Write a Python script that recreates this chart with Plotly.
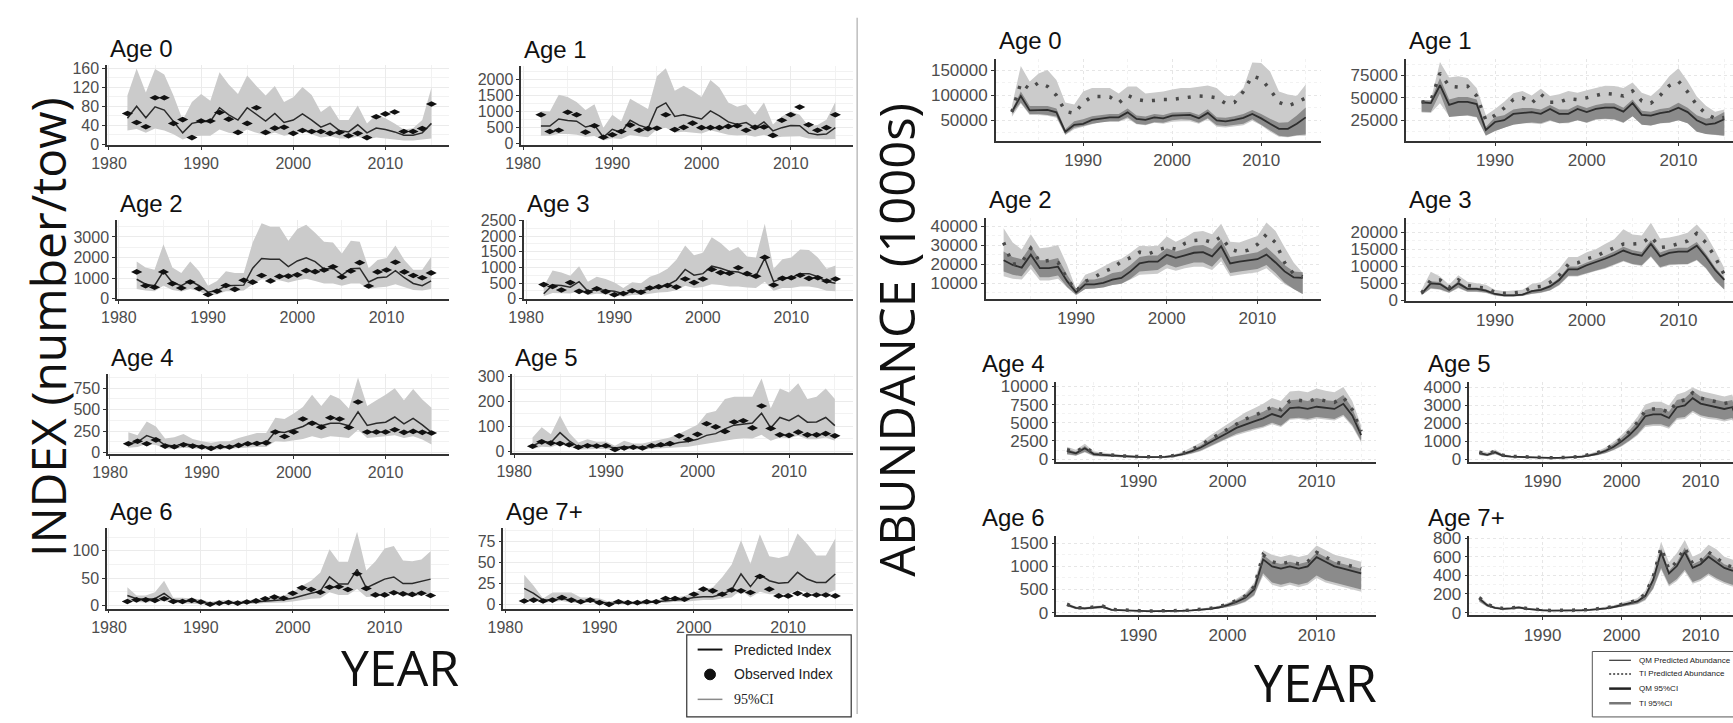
import plotly.graph_objects as go

W, H = 1733, 723
YEARS = list(range(1982, 2016))

# ---------------- Survey index (number/tow) ----------------
IDX0_OBS = [65, 46, 37, 98, 98, 44, 52, 14, 49, 49, 67, 53, 25, 44, 77, 25, 34, 36, 23, 29, 27, 27, 23, 25, 18, 23, 14, 58, 64, 68, 27, 27, 33, 85]
IDX0_PRED = [55, 80, 56, 79, 72, 48, 24, 44, 48, 48, 77, 62, 51, 77, 62, 49, 65, 46, 51, 64, 51, 36, 44, 29, 26, 41, 24, 34, 31, 26, 19, 19, 24, 44]
IDX0_HI = [103, 160, 109, 159, 147, 103, 51, 89, 106, 92, 152, 126, 106, 145, 123, 103, 123, 89, 99, 121, 104, 68, 82, 51, 51, 82, 44, 62, 55, 44, 31, 34, 51, 120]
IDX0_LO = [29, 32, 24, 33, 29, 21, 10, 17, 18, 18, 31, 24, 21, 31, 24, 19, 25, 18, 21, 27, 21, 14, 17, 12, 12, 16, 10, 14, 12, 10, 8, 8, 10, 12]

IDX1_OBS = [900, 380, 420, 980, 900, 360, 560, 200, 280, 380, 580, 420, 470, 480, 900, 440, 510, 640, 500, 500, 500, 540, 560, 420, 510, 520, 260, 730, 900, 1140, 590, 420, 500, 900]
IDX1_PRED = [550, 550, 770, 720, 700, 520, 580, 200, 450, 350, 730, 580, 480, 1120, 1270, 850, 900, 830, 770, 1020, 870, 680, 600, 660, 490, 680, 400, 500, 570, 560, 330, 280, 300, 500]
IDX1_HI = [1020, 1000, 1520, 1450, 1300, 1050, 1230, 500, 900, 700, 1400, 1250, 1080, 2100, 2350, 1650, 1800, 1650, 1450, 1980, 1750, 1280, 1150, 1230, 900, 1280, 600, 850, 1000, 900, 550, 580, 750, 1300]
IDX1_LO = [250, 250, 300, 300, 280, 220, 240, 100, 170, 150, 270, 230, 200, 450, 500, 350, 370, 350, 320, 420, 350, 280, 260, 270, 220, 280, 180, 220, 230, 230, 160, 140, 140, 150]

IDX2_OBS = [1300, 625, 550, 1300, 730, 515, 810, 485, 200, 360, 640, 450, 890, 800, 1125, 860, 1080, 1095, 1155, 1360, 1310, 1390, 1550, 1050, 1345, 1750, 610, 1300, 1390, 1770, 1300, 1125, 1015, 1250]
IDX2_PRED = [940, 700, 625, 1330, 780, 625, 860, 625, 310, 390, 625, 625, 655, 1480, 1950, 1920, 1920, 1560, 1830, 1980, 1800, 1440, 1480, 1140, 1450, 1480, 810, 1015, 1050, 1360, 1015, 735, 625, 860]
IDX2_HI = [1800, 1515, 1400, 2650, 1515, 1250, 1800, 1330, 625, 860, 1330, 1250, 1250, 2730, 3670, 3500, 3500, 2810, 3390, 3600, 3200, 2770, 2730, 2190, 2810, 2770, 1480, 1875, 1980, 2580, 1875, 1400, 1400, 2030]
IDX2_LO = [470, 390, 360, 625, 420, 345, 470, 360, 155, 200, 360, 360, 390, 700, 940, 905, 890, 780, 890, 970, 860, 735, 735, 625, 735, 735, 470, 545, 580, 700, 545, 420, 390, 470]

IDX3_OBS = [450, 390, 280, 515, 235, 215, 320, 225, 125, 165, 255, 205, 340, 380, 420, 370, 630, 515, 630, 935, 835, 815, 990, 800, 720, 1320, 440, 650, 670, 750, 650, 670, 565, 630]
IDX3_PRED = [155, 440, 420, 370, 545, 235, 290, 255, 235, 155, 235, 235, 320, 370, 440, 595, 935, 750, 800, 1040, 975, 875, 855, 750, 730, 1285, 545, 650, 670, 800, 800, 700, 545, 495]
IDX3_HI = [390, 905, 835, 730, 1040, 545, 700, 630, 515, 340, 525, 495, 700, 800, 955, 1245, 1700, 1390, 1470, 1965, 1780, 1525, 1655, 1350, 1320, 2400, 955, 1265, 1320, 1575, 1555, 1320, 955, 1060]
IDX3_LO = [80, 185, 185, 165, 235, 115, 155, 135, 115, 60, 115, 115, 165, 195, 215, 270, 410, 340, 370, 465, 440, 390, 390, 360, 340, 545, 255, 340, 340, 390, 390, 340, 255, 235]

IDX4_OBS = [103, 133, 103, 148, 76, 69, 91, 76, 65, 50, 69, 65, 84, 103, 107, 114, 240, 187, 240, 392, 343, 297, 407, 392, 293, 590, 240, 240, 240, 266, 236, 247, 236, 228]
IDX4_PRED = [103, 122, 198, 160, 88, 76, 103, 88, 76, 57, 69, 69, 88, 103, 110, 114, 247, 236, 266, 305, 362, 312, 343, 343, 312, 476, 316, 343, 354, 415, 335, 400, 324, 236]
IDX4_HI = [236, 202, 362, 305, 164, 179, 217, 160, 133, 114, 133, 133, 171, 202, 228, 228, 407, 392, 457, 533, 674, 544, 674, 628, 514, 876, 544, 609, 674, 750, 609, 742, 620, 522]
IDX4_LO = [57, 65, 103, 88, 50, 42, 57, 50, 42, 30, 38, 38, 50, 57, 65, 65, 133, 126, 141, 160, 190, 164, 190, 183, 171, 266, 171, 179, 190, 202, 171, 190, 152, 95]

IDX5_OBS = [20, 38, 33, 31, 26, 16, 22, 21, 22, 7, 13, 16, 13, 22, 26, 31, 62, 47, 68, 111, 98, 80, 118, 123, 94, 182, 92, 66, 64, 77, 66, 66, 71, 62]
IDX5_PRED = [22, 39, 35, 75, 42, 18, 24, 21, 21, 13, 18, 16, 16, 18, 22, 26, 35, 39, 48, 64, 71, 90, 105, 111, 114, 153, 94, 136, 123, 144, 117, 118, 136, 103]
IDX5_HI = [55, 97, 68, 144, 75, 35, 48, 38, 39, 22, 42, 31, 31, 38, 45, 55, 71, 88, 107, 153, 162, 210, 219, 219, 219, 293, 173, 252, 236, 274, 210, 219, 252, 210]
IDX5_LO = [9, 18, 16, 29, 18, 7, 9, 9, 9, 5, 8, 7, 7, 8, 10, 13, 16, 18, 22, 29, 33, 42, 48, 52, 51, 66, 42, 55, 52, 62, 48, 48, 55, 42]

IDX6_OBS = [7, 10, 10, 9, 12, 7, 7, 9, 6, 2, 4, 5, 4, 6, 8, 12, 15, 13, 22, 32, 29, 24, 33, 34, 29, 58, 31, 19, 19, 23, 21, 20, 22, 18]
IDX6_PRED = [18, 12, 11, 12, 22, 9, 8, 8, 6, 3, 4, 5, 4, 5, 6, 7, 9, 10, 13, 18, 22, 26, 52, 39, 39, 66, 32, 40, 48, 52, 40, 40, 44, 48]
IDX6_HI = [33, 18, 18, 24, 45, 14, 14, 12, 11, 6, 9, 9, 8, 9, 10, 12, 15, 18, 24, 36, 45, 60, 103, 80, 80, 135, 64, 81, 104, 109, 82, 81, 84, 99]
IDX6_LO = [6, 6, 5, 6, 8, 4, 3, 3, 2, 1, 2, 2, 2, 2, 3, 4, 5, 5, 7, 9, 12, 13, 24, 19, 19, 30, 15, 16, 21, 22, 18, 16, 18, 21]

IDX7_OBS = [4, 5, 4, 5, 8, 5, 3, 5, 2, 0, 3, 2, 2, 3, 3, 7, 7, 6, 12, 18, 16, 12, 17, 16, 14, 33, 18, 10, 10, 13, 11, 11, 11, 10]
IDX7_PRED = [19, 13, 5, 5, 7, 5, 3, 4, 3, 1, 2, 2, 2, 2, 3, 4, 5, 6, 8, 9, 9, 12, 17, 36, 21, 35, 28, 25, 26, 38, 30, 26, 26, 36]
IDX7_HI = [35, 22, 7, 14, 14, 14, 8, 8, 7, 3, 5, 4, 4, 5, 5, 7, 8, 10, 14, 18, 20, 32, 47, 76, 48, 83, 57, 55, 58, 84, 72, 58, 58, 78]
IDX7_LO = [7, 5, 2, 3, 4, 2, 2, 2, 2, 0, 1, 1, 1, 1, 2, 2, 3, 3, 4, 5, 5, 7, 8, 17, 8, 15, 12, 12, 12, 17, 14, 12, 12, 17]

# ---------------- Abundance (1000s): QM and TI models ----------------
AB0_QM = [67000, 99000, 70000, 71000, 71000, 66000, 27000, 41000, 43000, 51000, 54000, 56000, 56000, 66000, 53000, 51000, 56000, 54000, 59500, 61000, 61000, 54000, 65000, 50000, 48000, 51000, 55000, 63000, 54000, 43000, 33000, 33000, 43000, 56000]
AB0_TI = [67000, 125000, 113000, 126000, 118000, 100000, 68000, 64000, 85000, 98000, 98000, 97000, 85000, 100000, 92000, 89000, 90000, 92000, 92000, 94000, 97000, 99000, 98000, 95000, 84000, 86000, 108000, 139000, 133000, 112000, 86000, 79000, 86000, 95000]
AB0_TI_HI = [79000, 159000, 128000, 144000, 151000, 131000, 86000, 82000, 108000, 115000, 115000, 115000, 104000, 118000, 118000, 104000, 106000, 108000, 112000, 115000, 115000, 118000, 120000, 115000, 99000, 99000, 115000, 166000, 165000, 148000, 108000, 102000, 99000, 122000]
AB0_TI_LO = [57000, 84000, 61000, 61000, 59000, 55000, 20500, 32000, 37000, 42000, 47000, 47000, 47000, 53000, 42000, 40000, 45000, 43000, 47000, 48000, 48000, 43000, 52000, 37000, 35500, 37000, 40000, 49000, 40000, 27000, 17000, 16000, 19000, 19000]
AB0_QM_HI = [71000, 108000, 79000, 79000, 79000, 74000, 32000, 48000, 52000, 58000, 61000, 63000, 63000, 74000, 59500, 57500, 63000, 61000, 66000, 67000, 67000, 61000, 72500, 56000, 55000, 58000, 63000, 71000, 63000, 53000, 45000, 46000, 59500, 76000]
AB0_QM_LO = [63000, 86000, 63000, 63000, 61000, 57500, 21500, 35000, 38500, 43000, 46000, 48000, 48000, 56000, 43000, 41000, 46000, 45000, 50000, 52000, 51000, 45000, 54000, 40000, 38500, 40000, 43000, 52000, 42000, 30000, 19000, 17000, 20000, 21500]

AB1_QM = [45000, 44000, 64000, 42000, 45500, 45500, 43000, 14000, 23000, 25000, 32000, 33000, 34000, 32000, 37500, 32000, 32000, 37500, 34000, 37500, 39000, 39000, 34500, 44000, 31000, 30000, 33000, 34500, 39000, 34000, 25000, 20000, 21500, 26000]
AB1_TI = [45000, 46500, 77500, 63000, 62000, 63000, 52000, 25000, 30500, 38500, 48000, 50000, 44000, 54000, 45000, 45000, 49000, 48000, 50000, 52500, 55000, 54000, 52000, 57500, 46500, 44000, 52500, 63500, 68500, 56500, 42000, 32000, 27000, 28000]
AB1_TI_HI = [47500, 47500, 90000, 72500, 74000, 72000, 61000, 30500, 37500, 45500, 55000, 57500, 52500, 60000, 52000, 54000, 57500, 55500, 58500, 61000, 63500, 63000, 61000, 67000, 55500, 52000, 61000, 74000, 83000, 68500, 51500, 41000, 34500, 37000]
AB1_TI_LO = [33500, 33000, 44000, 29500, 30000, 30000, 28000, 7500, 13000, 16500, 20500, 21500, 21500, 20500, 24000, 21500, 21500, 25000, 22000, 25500, 26000, 25500, 22000, 29500, 20500, 19000, 21500, 22000, 25000, 21500, 13000, 9500, 8500, 7000]
AB1_QM_HI = [47000, 47000, 72000, 48000, 51000, 51000, 48000, 17500, 28500, 30500, 37000, 38500, 38500, 37000, 42000, 37000, 37000, 42000, 38500, 42000, 44000, 44000, 39000, 48000, 35500, 34500, 37500, 39000, 44500, 39000, 30500, 26500, 28500, 34000]
AB1_QM_LO = [34500, 34000, 55000, 28500, 29500, 30500, 28500, 8000, 13000, 16500, 20000, 21500, 22500, 21500, 25000, 21500, 22500, 25000, 22500, 26000, 26500, 26000, 22500, 29500, 20000, 19000, 21500, 22500, 25000, 21500, 12000, 9500, 8500, 8000]

AB2_QM = [22200, 19700, 18300, 25100, 18000, 18000, 18800, 11200, 5300, 9500, 9500, 10300, 12000, 12900, 16300, 20500, 21400, 21400, 25100, 23400, 24700, 26100, 26400, 24200, 29500, 20500, 21400, 22200, 22700, 25100, 21000, 16300, 13200, 12900]
AB2_TI = [31500, 20000, 21000, 28500, 21400, 22000, 21000, 12500, 6000, 11000, 13200, 16000, 18000, 21500, 23500, 26400, 25500, 27500, 29000, 28000, 31000, 32500, 33000, 31500, 34500, 28000, 26500, 27500, 30500, 35800, 31500, 21000, 15000, 13500]
AB2_TI_HI = [39000, 31500, 27800, 35800, 28500, 29000, 30200, 19700, 7000, 14600, 16300, 18800, 21400, 23000, 26100, 29800, 29500, 29800, 34600, 31900, 34100, 37000, 37500, 35800, 41400, 31900, 31500, 33200, 34900, 42000, 37500, 29000, 21000, 15400]
AB2_TI_LO = [13700, 12500, 12000, 17600, 11500, 11500, 12500, 7800, 3600, 7000, 7300, 8100, 9200, 9800, 12000, 14600, 14900, 15100, 18000, 16600, 18000, 18800, 18800, 17100, 21700, 13700, 14600, 15400, 15900, 18000, 13700, 9500, 7000, 4400]
AB2_QM_HI = [26800, 23900, 22700, 29800, 22200, 22200, 23400, 14600, 7000, 12000, 12000, 13200, 15400, 16300, 19700, 23900, 24700, 24700, 28500, 26800, 28100, 29800, 30200, 28100, 33200, 23900, 24700, 25600, 26400, 29000, 24700, 19700, 16300, 15900]
AB2_QM_LO = [16300, 14600, 13700, 20000, 13200, 13200, 14200, 8100, 4000, 7000, 7300, 7800, 9200, 9800, 12500, 16300, 16600, 17100, 20000, 18300, 19700, 21000, 21000, 18800, 23900, 15400, 16300, 17100, 17600, 19700, 15400, 10300, 7000, 4400]

AB3_QM = [2000, 5000, 4800, 3100, 5000, 3400, 3400, 2900, 1900, 1500, 1500, 1700, 2700, 3100, 4100, 6000, 9100, 9100, 10300, 11200, 12200, 13300, 14600, 13600, 13100, 16500, 12900, 13900, 14300, 14300, 16000, 12700, 8900, 6000]
AB3_TI = [2200, 6000, 6000, 3800, 6000, 4400, 3900, 3600, 2400, 2100, 2200, 2500, 3800, 4100, 5300, 7400, 10600, 11000, 12200, 12900, 14300, 15500, 16500, 16500, 16700, 18700, 15500, 15800, 16500, 17400, 19600, 16900, 12700, 7500]
AB3_TI_HI = [3100, 8400, 7000, 4600, 7400, 5500, 5000, 4600, 3100, 2700, 2900, 3100, 4800, 5300, 7000, 9300, 12700, 12700, 14100, 15000, 16500, 17900, 20800, 19300, 19000, 22700, 18100, 18400, 19000, 19800, 22200, 19300, 14600, 9500]
AB3_TI_LO = [1500, 3400, 3100, 2200, 3600, 2500, 2500, 2200, 1400, 1100, 1100, 1300, 1900, 2200, 2900, 4400, 7000, 7000, 7900, 8600, 9300, 10300, 11400, 10500, 10100, 12700, 9500, 10300, 10500, 10500, 11700, 9300, 5700, 3100]
AB3_QM_HI = [2300, 5600, 5400, 3500, 5600, 3800, 3800, 3300, 2200, 1800, 1800, 2000, 3000, 3500, 4600, 6600, 9900, 9900, 11100, 12000, 13100, 14300, 15700, 14700, 14200, 17600, 14000, 15000, 15400, 15400, 17100, 13700, 9700, 6600]
AB3_QM_LO = [1600, 3600, 3300, 2300, 3800, 2600, 2600, 2300, 1500, 1200, 1200, 1400, 2000, 2300, 3000, 4600, 7200, 7200, 8100, 8800, 9500, 10500, 11600, 10700, 10300, 12900, 9700, 10500, 10700, 10700, 11900, 9500, 5900, 3200]

AB4_QM = [1100, 800, 1500, 700, 600, 500, 400, 350, 300, 280, 280, 300, 450, 700, 1100, 1600, 2300, 2900, 3600, 4300, 4800, 5200, 5600, 6200, 5800, 7000, 7100, 6900, 7200, 7000, 6900, 7600, 6000, 3300]
AB4_TI = [1300, 1000, 1700, 800, 700, 550, 450, 400, 350, 300, 300, 350, 500, 800, 1300, 1900, 2700, 3400, 4200, 4900, 5500, 6000, 6500, 7200, 6800, 8000, 8100, 7900, 8300, 8000, 7800, 8500, 6800, 3800]
AB4_TI_HI = [1700, 1300, 2100, 1100, 900, 700, 600, 500, 450, 400, 400, 450, 650, 1000, 1600, 2300, 3200, 4000, 4900, 5700, 6400, 7000, 7600, 8400, 8000, 9300, 9400, 9200, 9700, 9400, 9200, 9900, 8000, 4600]
AB4_TI_LO = [600, 450, 900, 400, 350, 280, 230, 200, 180, 160, 160, 180, 270, 450, 750, 1100, 1700, 2200, 2800, 3300, 3700, 4000, 4300, 4800, 4400, 5400, 5500, 5300, 5600, 5400, 5300, 5900, 4500, 2300]
AB4_QM_HI = [1400, 1000, 1800, 900, 750, 600, 500, 450, 400, 350, 350, 400, 550, 850, 1300, 1900, 2700, 3400, 4200, 5000, 5600, 6100, 6500, 7200, 6800, 8100, 8200, 8000, 8400, 8100, 8000, 8800, 7000, 4000]
AB4_QM_LO = [700, 500, 1000, 450, 400, 300, 250, 220, 200, 180, 180, 200, 300, 500, 800, 1200, 1800, 2300, 2900, 3500, 3900, 4200, 4500, 5000, 4600, 5600, 5700, 5500, 5800, 5600, 5500, 6100, 4700, 2500]

AB5_QM = [350, 250, 400, 200, 150, 130, 110, 100, 90, 80, 80, 90, 110, 150, 220, 320, 480, 700, 1000, 1350, 1800, 2400, 2500, 2500, 2300, 2900, 3000, 3400, 3100, 3000, 2900, 2800, 2900, 1800]
AB5_TI = [400, 300, 450, 230, 170, 150, 120, 110, 100, 90, 90, 100, 130, 180, 260, 380, 560, 820, 1150, 1550, 2050, 2700, 2800, 2800, 2600, 3200, 3300, 3700, 3400, 3300, 3200, 3100, 3200, 2000]
AB5_TI_HI = [500, 380, 550, 300, 220, 190, 160, 140, 130, 120, 120, 130, 170, 230, 330, 470, 680, 980, 1350, 1800, 2350, 3050, 3200, 3200, 3000, 3600, 3750, 4000, 3800, 3700, 3600, 3500, 3600, 2300]
AB5_TI_LO = [230, 170, 280, 130, 95, 85, 70, 65, 55, 50, 50, 55, 75, 100, 150, 230, 340, 500, 720, 1000, 1330, 1800, 1850, 1850, 1700, 2200, 2250, 2600, 2350, 2250, 2200, 2100, 2200, 1300]
AB5_QM_HI = [420, 300, 480, 250, 180, 160, 130, 120, 110, 100, 100, 110, 140, 190, 280, 400, 580, 850, 1200, 1600, 2100, 2750, 2850, 2850, 2650, 3300, 3400, 3800, 3500, 3400, 3300, 3200, 3300, 2100]
AB5_QM_LO = [250, 180, 300, 140, 100, 90, 75, 70, 60, 55, 55, 60, 80, 110, 160, 240, 360, 530, 760, 1050, 1400, 1900, 1950, 1950, 1800, 2300, 2350, 2700, 2450, 2350, 2300, 2200, 2300, 1400]

AB6_QM = [170, 100, 90, 110, 130, 60, 50, 40, 35, 30, 30, 30, 35, 40, 50, 60, 80, 110, 160, 230, 320, 500, 1150, 1000, 950, 1000, 950, 1000, 1200, 1100, 1000, 950, 900, 850]
AB6_TI = [180, 110, 100, 120, 140, 70, 55, 45, 40, 35, 35, 35, 40, 45, 55, 70, 90, 125, 180, 260, 360, 560, 1250, 1100, 1050, 1100, 1050, 1100, 1300, 1200, 1100, 1050, 1000, 950]
AB6_TI_HI = [210, 130, 120, 140, 160, 85, 65, 55, 50, 45, 45, 45, 50, 55, 65, 85, 110, 150, 210, 300, 420, 650, 1350, 1250, 1200, 1250, 1200, 1250, 1450, 1350, 1250, 1200, 1150, 1100]
AB6_TI_LO = [130, 75, 65, 85, 95, 42, 35, 28, 24, 20, 20, 20, 24, 28, 35, 42, 55, 80, 115, 160, 225, 360, 800, 600, 550, 600, 550, 600, 750, 650, 600, 550, 500, 450]
AB6_QM_HI = [190, 115, 105, 125, 150, 70, 58, 48, 42, 36, 36, 36, 42, 48, 58, 70, 95, 130, 190, 270, 380, 600, 1250, 1100, 1050, 1100, 1050, 1100, 1300, 1200, 1100, 1050, 1000, 950]
AB6_QM_LO = [140, 80, 70, 90, 100, 45, 38, 30, 26, 22, 22, 22, 26, 30, 38, 45, 60, 85, 120, 170, 240, 380, 850, 650, 600, 650, 600, 650, 800, 700, 650, 600, 550, 500]

AB7_QM = [150, 80, 50, 40, 45, 55, 40, 30, 25, 20, 20, 20, 22, 25, 30, 35, 45, 60, 80, 100, 120, 180, 350, 650, 420, 500, 650, 480, 520, 600, 540, 480, 450, 450]
AB7_TI = [160, 90, 55, 45, 50, 60, 45, 33, 28, 22, 22, 22, 25, 28, 33, 40, 50, 65, 90, 110, 130, 200, 380, 700, 460, 550, 700, 520, 560, 650, 590, 520, 490, 490]
AB7_TI_HI = [180, 100, 65, 55, 60, 70, 55, 40, 34, 27, 27, 27, 30, 34, 40, 48, 60, 78, 105, 130, 155, 235, 440, 760, 540, 640, 780, 600, 640, 730, 680, 600, 570, 560]
AB7_TI_LO = [115, 60, 38, 30, 34, 42, 30, 22, 19, 15, 15, 15, 17, 19, 22, 26, 34, 45, 58, 74, 90, 130, 250, 460, 280, 340, 440, 310, 340, 400, 350, 310, 280, 280]
AB7_QM_HI = [165, 88, 55, 45, 50, 60, 45, 33, 28, 22, 22, 22, 25, 28, 33, 40, 50, 65, 88, 110, 130, 195, 380, 690, 450, 540, 700, 520, 560, 650, 590, 520, 490, 490]
AB7_QM_LO = [120, 65, 40, 32, 36, 45, 32, 24, 20, 16, 16, 16, 18, 20, 24, 28, 36, 48, 62, 78, 95, 140, 260, 480, 300, 360, 460, 330, 360, 420, 370, 330, 300, 300]

AGE_LABELS = ["Age 0", "Age 1", "Age 2", "Age 3", "Age 4", "Age 5", "Age 6", "Age 7+"]
INDEX_TICKS = [[0, 40, 80, 120, 160], [0, 500, 1000, 1500, 2000], [0, 1000, 2000, 3000],
               [0, 500, 1000, 1500, 2000, 2500], [0, 250, 500, 750], [0, 100, 200, 300],
               [0, 50, 100], [0, 25, 50, 75]]
ABUND_TICKS = [[50000, 100000, 150000], [25000, 50000, 75000], [10000, 20000, 30000, 40000],
               [0, 5000, 10000, 15000, 20000], [0, 2500, 5000, 7500, 10000], [0, 1000, 2000, 3000, 4000],
               [0, 500, 1000, 1500], [0, 200, 400, 600, 800]]

INDEX_SERIES = [(IDX0_OBS, IDX0_PRED, IDX0_HI, IDX0_LO), (IDX1_OBS, IDX1_PRED, IDX1_HI, IDX1_LO),
                (IDX2_OBS, IDX2_PRED, IDX2_HI, IDX2_LO), (IDX3_OBS, IDX3_PRED, IDX3_HI, IDX3_LO),
                (IDX4_OBS, IDX4_PRED, IDX4_HI, IDX4_LO), (IDX5_OBS, IDX5_PRED, IDX5_HI, IDX5_LO),
                (IDX6_OBS, IDX6_PRED, IDX6_HI, IDX6_LO), (IDX7_OBS, IDX7_PRED, IDX7_HI, IDX7_LO)]
ABUND_SERIES = [(AB0_QM, AB0_TI, AB0_TI_HI, AB0_TI_LO, AB0_QM_HI, AB0_QM_LO),
                (AB1_QM, AB1_TI, AB1_TI_HI, AB1_TI_LO, AB1_QM_HI, AB1_QM_LO),
                (AB2_QM, AB2_TI, AB2_TI_HI, AB2_TI_LO, AB2_QM_HI, AB2_QM_LO),
                (AB3_QM, AB3_TI, AB3_TI_HI, AB3_TI_LO, AB3_QM_HI, AB3_QM_LO),
                (AB4_QM, AB4_TI, AB4_TI_HI, AB4_TI_LO, AB4_QM_HI, AB4_QM_LO),
                (AB5_QM, AB5_TI, AB5_TI_HI, AB5_TI_LO, AB5_QM_HI, AB5_QM_LO),
                (AB6_QM, AB6_TI, AB6_TI_HI, AB6_TI_LO, AB6_QM_HI, AB6_QM_LO),
                (AB7_QM, AB7_TI, AB7_TI_HI, AB7_TI_LO, AB7_QM_HI, AB7_QM_LO)]

# Panel boxes in pixels: (left, right, top, bottom), title left edge, x range, y range
INDEX_BOXES = [
    ((92, 437, 58, 140), 93, [1979.8, 2016.9], [-1, 168]),
    ((510, 845, 59, 140), 511, [1979.8, 2017.0], [-30, 2430]),
    ((102, 437, 217, 298), 103, [1979.8, 2017.0], [-20, 3830]),
    ((513, 845, 217, 298), 514, [1979.8, 2017.0], [-10, 2520]),
    ((93, 437, 375, 457), 94, [1979.8, 2016.9], [-19, 914]),
    ((501, 845, 375, 456), 502, [1979.8, 2017.0], [-8, 310]),
    ((92, 437, 533, 615), 93, [1979.8, 2017.0], [-6, 141]),
    ((492, 845, 533, 615), 493, [1979.8, 2016.9], [-5, 90]),
]
ABUND_BOXES = [
    ((989, 1317, 52, 136), 990, [1980.2, 2016.7], [9000, 173500]),
    ((1403, 1733, 52, 136), 1404, [1980.3, 2015.95], [2000, 93500]),
    ((979, 1317, 215, 298), 980, [1980.05, 2017.0], [1800, 44400]),
    ((1403, 1733, 215, 300), 1404, [1980.3, 2015.95], [-140, 24140]),
    ((1050, 1373, 383, 465), 973, [1980.8, 2016.7], [-400, 10600]),
    ((1467, 1733, 383, 465), 1423, [1980.75, 2014.1], [-150, 4300]),
    ((1050, 1373, 541, 622), 973, [1980.8, 2016.7], [-60, 1650]),
    ((1467, 1733, 541, 622), 1423, [1980.75, 2014.1], [-30, 820]),
]

SANS = "Liberation Sans, Arial, sans-serif"
BIG = "Open Sans, Noto Sans, sans-serif"
LIGHT_CI = "#cbcbcb"
DARK_CI = "#8b8b8b"

fig = go.Figure()
layout = {}
annotations = []
shapes = []


def px_x(p):
    return p / W


def px_y(p):
    return 1 - p / H


def setup_axes(i, box, title_x, xr, yr, yticks, xticks, minor_x, right_side):
    left, right, top, bottom = box
    sx = "" if i == 1 else str(i)
    tick_font = dict(size=17 if right_side else 16, color="#4d4d4d", family=SANS)
    grid_col = "#e6e6e6" if right_side else "#ebebeb"
    grid_dash = "dot" if right_side else "solid"
    step = yticks[1] - yticks[0]
    ymid = [yticks[0] - step / 2] + [t + step / 2 for t in yticks]
    common = dict(showline=True, linecolor="#333333", linewidth=1.6, ticks="outside",
                  ticklen=3, tickcolor="#333333", tickfont=tick_font, tickformat="d",
                  showgrid=True, gridcolor=grid_col, griddash=grid_dash, gridwidth=1,
                  zeroline=False, tickmode="array")
    layout["xaxis" + sx] = dict(
        domain=[px_x(left), px_x(right)], range=xr, anchor="y" + sx, tickvals=xticks,
        minor=dict(tickvals=minor_x, showgrid=True, gridcolor="#f2f2f2", griddash=grid_dash, ticks=""),
        **common)
    layout["yaxis" + sx] = dict(
        domain=[px_y(bottom), px_y(top)], range=yr, anchor="x" + sx, tickvals=yticks,
        minor=dict(tickvals=ymid, showgrid=True, gridcolor="#f2f2f2", griddash=grid_dash, ticks=""),
        **common)
    gap = 19 if right_side else 17
    annotations.append(dict(
        text=AGE_LABELS[(i - 1) % 8], xref="paper", yref="paper",
        x=px_x(title_x), y=px_y(top - gap), xanchor="left", yanchor="middle",
        showarrow=False, font=dict(size=24, color="#111111", family=SANS),
    ))
    return "x" + sx, "y" + sx


def band(xa, ya, hi, lo, color):
    fig.add_trace(go.Scatter(
        x=YEARS + YEARS[::-1], y=hi + lo[::-1], xaxis=xa, yaxis=ya,
        fill="toself", fillcolor=color, mode="lines", line=dict(width=0),
        hoverinfo="skip", showlegend=False,
    ))


# Left block: survey index fits
for k in range(8):
    box, tx, xr, yr = INDEX_BOXES[k]
    xa, ya = setup_axes(k + 1, box, tx, xr, yr, INDEX_TICKS[k], [1980, 1990, 2000, 2010],
                        [1985, 1995, 2005, 2015], False)
    obs, pred, hi, lo = INDEX_SERIES[k]
    band(xa, ya, hi, lo, LIGHT_CI)
    fig.add_trace(go.Scatter(x=YEARS, y=pred, xaxis=xa, yaxis=ya, mode="lines",
                             line=dict(color="#2b2b2b", width=1.5), showlegend=False))
    fig.add_trace(go.Scatter(x=YEARS, y=obs, xaxis=xa, yaxis=ya, mode="markers",
                             marker=dict(symbol="diamond-wide", size=8, color="#111111"),
                             showlegend=False))

# Right block: abundance estimates
for k in range(8):
    box, tx, xr, yr = ABUND_BOXES[k]
    xa, ya = setup_axes(k + 9, box, tx, xr, yr, ABUND_TICKS[k], [1990, 2000, 2010],
                        [1985, 1995, 2005, 2015], True)
    qm, ti, ti_hi, ti_lo, qm_hi, qm_lo = ABUND_SERIES[k]
    band(xa, ya, ti_hi, ti_lo, LIGHT_CI)
    band(xa, ya, qm_hi, qm_lo, DARK_CI)
    fig.add_trace(go.Scatter(x=YEARS, y=qm, xaxis=xa, yaxis=ya, mode="lines",
                             line=dict(color="#2e2e2e", width=1.8), showlegend=False))
    fig.add_trace(go.Scatter(x=YEARS, y=ti, xaxis=xa, yaxis=ya, mode="lines",
                             line=dict(color="#4a4a4a", width=3.5, dash="3px,9px"),
                             showlegend=False))

# Big axis titles
annotations += [
    dict(text="INDEX (number/tow)", textangle=-90, xref="paper", yref="paper",
         x=px_x(32), y=px_y(327), xanchor="center", yanchor="middle",
         showarrow=False, font=dict(size=48, color="#111111", family=BIG)),
    dict(text="YEAR", xref="paper", yref="paper", x=px_x(388), y=px_y(675),
         xanchor="center", yanchor="middle", showarrow=False,
         font=dict(size=50, color="#111111", family=BIG)),
    dict(text="ABUNDANCE (1000s)", textangle=-90, xref="paper", yref="paper",
         x=px_x(888), y=px_y(340), xanchor="center", yanchor="middle",
         showarrow=False, font=dict(size=49, color="#111111", family=BIG)),
    dict(text="YEAR", xref="paper", yref="paper", x=px_x(1312), y=px_y(690),
         xanchor="center", yanchor="middle", showarrow=False,
         font=dict(size=52, color="#111111", family=BIG)),
]

# Divider between the two blocks
shapes.append(dict(type="line", xref="paper", yref="paper", x0=px_x(849), x1=px_x(849),
                   y0=px_y(10), y1=px_y(723), line=dict(color="#bdbdbd", width=1.5)))

# Legend for the index block
shapes.append(dict(type="rect", xref="paper", yref="paper", x0=px_x(677), x1=px_x(843),
                   y0=px_y(642), y1=px_y(726), line=dict(color="#333333", width=1.2),
                   fillcolor="white"))
shapes.append(dict(type="line", xref="paper", yref="paper", x0=px_x(688), x1=px_x(713),
                   y0=px_y(657), y1=px_y(657), line=dict(color="#111111", width=2)))
shapes.append(dict(type="circle", xref="paper", yref="paper", x0=px_x(695), x1=px_x(706),
                   y0=px_y(677), y1=px_y(688), line=dict(color="#111111", width=1),
                   fillcolor="#111111"))
shapes.append(dict(type="line", xref="paper", yref="paper", x0=px_x(688), x1=px_x(713),
                   y0=px_y(708), y1=px_y(708), line=dict(color="#8a8a8a", width=1.5)))
for txt, yy, fam in [("Predicted Index", 657, "Liberation Sans Narrow, Liberation Sans, Arial"),
                     ("Observed Index", 682, "Liberation Sans Narrow, Liberation Sans, Arial"),
                     ("95%CI", 708, "Liberation Serif, Times New Roman, serif")]:
    annotations.append(dict(text=txt, xref="paper", yref="paper", x=px_x(723), y=px_y(yy),
                            xanchor="left", yanchor="middle", showarrow=False,
                            font=dict(size=14, color="#222222", family=fam)))

# Legend for the abundance block
shapes.append(dict(type="rect", xref="paper", yref="paper", x0=px_x(1591), x1=px_x(1735),
                   y0=px_y(659), y1=px_y(726), line=dict(color="#555555", width=1),
                   fillcolor="white"))
legend_rows = [("QM Predicted Abundance", 668, dict(color="#333333", width=1.2)),
               ("TI Predicted Abundance", 682, dict(color="#333333", width=1.5, dash="2px,2px")),
               ("QM 95%CI", 697, dict(color="#222222", width=2.5)),
               ("TI 95%CI", 712, dict(color="#777777", width=2.5))]
for txt, yy, ln in legend_rows:
    shapes.append(dict(type="line", xref="paper", yref="paper", x0=px_x(1608), x1=px_x(1630),
                       y0=px_y(yy), y1=px_y(yy), line=ln))
    annotations.append(dict(text=txt, xref="paper", yref="paper", x=px_x(1636), y=px_y(yy),
                            xanchor="left", yanchor="middle", showarrow=False,
                            font=dict(size=8, color="#222222", family=SANS)))

fig.update_layout(
    width=W, height=H, margin=dict(l=0, r=0, t=0, b=0),
    paper_bgcolor="white", plot_bgcolor="white", showlegend=False,
    annotations=annotations, shapes=shapes, **layout,
)

fig.write_html("out.html")
